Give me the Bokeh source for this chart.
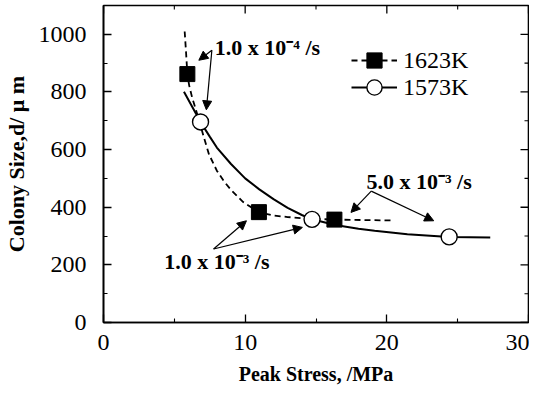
import math
from bokeh.plotting import figure
from bokeh.models import (FixedTicker, Legend, LegendItem, Arrow, NormalHead, Label, Range1d)
from bokeh.embed import file_html
from bokeh.resources import INLINE

# ---------------- data ----------------
x_ticks = [0, 10, 20, 30]
x_minor = [5, 15, 25]
y_ticks = [0, 200, 400, 600, 800, 1000]
y_minor = [100, 300, 500, 700, 900]
x_lim = (0, 30)
y_lim = (0, 1100)

# 1623K measured points (filled squares)
s1623_stress = [5.92, 10.97, 16.3]
s1623_size = [862, 383, 357]
# 1573K measured points (open circles)
s1573_stress = [6.85, 14.72, 24.4]
s1573_size = [696, 358, 297]

# fitted curves
fit1623_stress = [5.73, 5.83, 5.92, 6.05, 6.25, 6.5, 6.8, 7.1, 7.45, 8.0, 8.5, 9.0,
                  9.86, 10.97, 12.0, 13.0, 14.0, 14.72, 16.3, 20.5]
fit1623_size = [1010, 935, 862, 822, 782, 742, 692, 640, 583, 527, 490, 460,
                418, 383, 371, 366, 362, 360, 357, 354]
fit1573_stress = [5.68, 6.85, 7.5, 8.0, 9.0, 10.0, 11.0, 12.0, 13.0, 14.0, 14.72,
                  16.35, 18.0, 19.14, 21.45, 24.4, 27.3]
fit1573_size = [801, 696, 645, 607, 550, 500, 462, 428, 398, 373, 358,
                338, 325, 318, 306, 297, 295]

legend_labels = ["1623K", "1573K"]
ann_texts = ["1.0 x 10\u207b\u2074 /s", "1.0 x 10\u207b\u00b3 /s", "5.0 x 10\u207b\u00b3 /s"]

# ---------------- figure ----------------
SERIF = "Liberation Serif"

p = figure(width=529, height=392, output_backend="svg", toolbar_location=None,
           x_range=Range1d(*x_lim), y_range=Range1d(*y_lim),
           min_border_left=97, min_border_right=1, min_border_top=5,
           min_border_bottom=70)
p.background_fill_color = "white"
p.border_fill_color = "white"
p.outline_line_color = "black"
p.outline_line_width = 1.6
p.xgrid.visible = False
p.ygrid.visible = False

p.xaxis.ticker = FixedTicker(ticks=x_ticks, minor_ticks=x_minor)
p.yaxis.ticker = FixedTicker(ticks=y_ticks, minor_ticks=y_minor)

for ax in (p.xaxis[0], p.yaxis[0]):
    ax.axis_line_color = "black"
    ax.axis_line_width = 1.6
    ax.major_tick_in = 8
    ax.major_tick_out = 0
    ax.minor_tick_in = 4
    ax.minor_tick_out = 0
    ax.major_tick_line_color = "black"
    ax.minor_tick_line_color = "black"
    ax.major_tick_line_width = 1.3
    ax.minor_tick_line_width = 1.1
    ax.major_label_text_font = SERIF
    ax.major_label_text_font_size = "24px"
    ax.major_label_text_color = "black"
    ax.axis_label_text_font = SERIF
    ax.axis_label_text_font_style = "bold"
    ax.axis_label_text_color = "black"

p.yaxis.major_label_standoff = 17
p.yaxis.axis_label = "Colony Size,d/ \u03bc m"
p.yaxis.axis_label_text_font_size = "22px"
p.yaxis.axis_label_standoff = 7

p.xaxis.major_label_standoff = 12
p.xaxis.axis_label = "Peak Stress, /MPa"
p.xaxis.axis_label_text_font_size = "20px"
p.xaxis.axis_label_standoff = 10

# inward ticks on the top and right frame edges
p.ray(x=x_ticks, y=[y_lim[1]] * len(x_ticks), length=8, length_units="screen",
      angle=-math.pi / 2, line_color="black", line_width=1.3)
p.ray(x=x_minor, y=[y_lim[1]] * len(x_minor), length=4, length_units="screen",
      angle=-math.pi / 2, line_color="black", line_width=1.1)
p.ray(x=[x_lim[1]] * len(y_ticks), y=y_ticks, length=8, length_units="screen",
      angle=math.pi, line_color="black", line_width=1.3)
p.ray(x=[x_lim[1]] * len(y_minor), y=y_minor, length=4, length_units="screen",
      angle=math.pi, line_color="black", line_width=1.1)

# ---------------- curves and points ----------------
dash_r = p.line(fit1623_stress, fit1623_size, line_color="black", line_width=1.8,
                line_dash="6 4")
solid_r = p.line(fit1573_stress, fit1573_size, line_color="black", line_width=2)
sq_r = p.scatter(s1623_stress, s1623_size, marker="square", size=15,
                 fill_color="black", line_color="black")
ci_r = p.scatter(s1573_stress, s1573_size, marker="circle", size=16,
                 fill_color="white", line_color="black", line_width=1.4)

# ---------------- legend ----------------
for lab, rends, loc in [(legend_labels[0], [dash_r, sq_r], (248, 243)),
                        (legend_labels[1], [solid_r, ci_r], (248, 216))]:
    leg = Legend(items=[LegendItem(label=lab, renderers=rends)], location=loc,
                 glyph_width=46, glyph_height=38, label_standoff=6, padding=0,
                 margin=0, spacing=0, background_fill_alpha=0,
                 border_line_color=None, label_text_font=SERIF,
                 label_text_font_size="24px", label_text_color="black")
    p.add_layout(leg)

# ---------------- annotations ----------------
ann_pos = [(7.86, 955), (4.29, 212), (18.56, 488)]
for (ax_, ay_), t in zip(ann_pos, ann_texts):
    p.add_layout(Label(x=ax_, y=ay_, text=t, text_font=SERIF, text_font_style="bold",
                       text_font_size="22px", text_baseline="middle",
                       text_color="black"))

arrows = [
    ((7.65, 945), (6.73, 910)),
    ((7.65, 945), (7.26, 738)),
    ((7.77, 255), (10.09, 353)),
    ((7.77, 255), (14.04, 330)),
    ((18.9, 456), (17.47, 382)),
    ((18.9, 456), (23.31, 353)),
]
for (x0, y0), (x1, y1) in arrows:
    p.add_layout(Arrow(x_start=x0, y_start=y0, x_end=x1, y_end=y1,
                       line_color="black", line_width=1.2,
                       end=NormalHead(size=9, fill_color="black",
                                      line_color="black", line_width=1)))

open("out.html", "w").write(file_html(p, INLINE))
